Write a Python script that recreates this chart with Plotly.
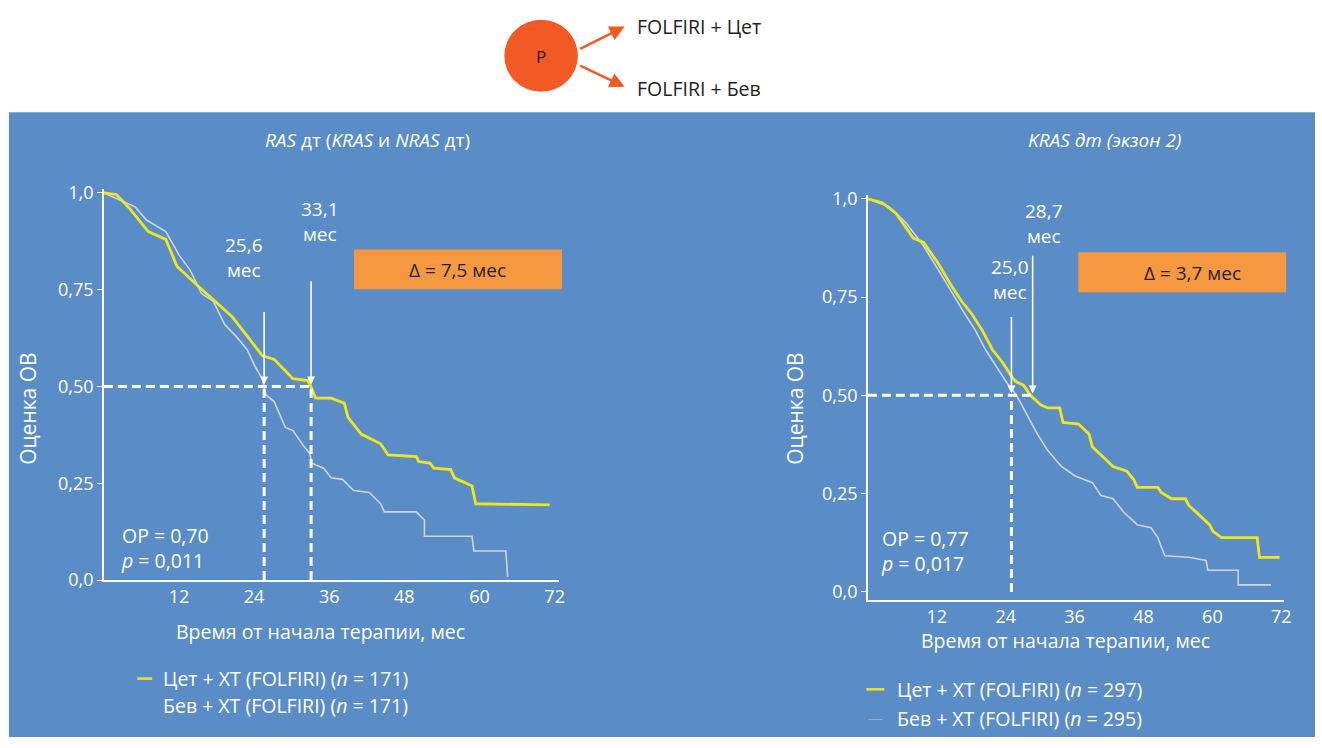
import plotly.graph_objects as go

W, H = 1322, 748

# ---- Kaplan-Meier curves (months, OS estimate) ----
# Left panel: RAS wild type
ras_cet_t = [0, 2.0, 4.1, 7.1, 9.9, 11.7, 15.0, 18.4, 20.5, 22.9, 25.3, 27.2, 30.2, 32.6, 33.2, 33.8,
             36.3, 38.4, 39.0, 41.1, 44.2, 45.4, 49.9, 50.3, 52.1, 52.7, 55.4, 56.0, 58.8, 59.4, 71.2]
ras_cet_s = [1.0, 0.996, 0.96, 0.90, 0.88, 0.81, 0.76, 0.71, 0.68, 0.63, 0.58, 0.57, 0.52, 0.515, 0.495, 0.47,
             0.47, 0.457, 0.42, 0.377, 0.352, 0.323, 0.319, 0.306, 0.302, 0.289, 0.285, 0.264, 0.243, 0.197, 0.194]

ras_bev_t = [0, 2.9, 5.0, 6.8, 8.9, 9.9, 12.0, 13.8, 15.6, 17.5, 19.3, 21.1, 22.9, 24.1, 25.3, 25.9, 27.2,
             29.0, 30.2, 32.0, 32.9, 33.2, 35.1, 36.3, 38.1, 39.9, 42.4, 44.2, 44.8, 49.9, 51.2, 51.2,
             58.8, 59.1, 64.2, 64.5]
ras_bev_s = [1.0, 0.98, 0.964, 0.93, 0.91, 0.90, 0.84, 0.80, 0.74, 0.72, 0.66, 0.63, 0.595, 0.553, 0.52, 0.478, 0.461,
             0.394, 0.386, 0.344, 0.327, 0.302, 0.289, 0.264, 0.26, 0.231, 0.226, 0.197, 0.176, 0.176, 0.155, 0.113,
             0.113, 0.075, 0.075, 0.008]

# Right panel: KRAS wild type (exon 2)
kras_cet_t = [0, 2.5, 4.9, 7.9, 9.7, 12.1, 14.5, 16.3, 18.1, 19.9, 21.7, 23.5, 25.3, 25.9, 27.1, 28.3, 30.1,
              31.3, 33.4, 34.0, 36.7, 38.5, 39.1, 40.9, 42.7, 45.1, 46.3, 46.9, 50.5, 51.1, 52.9, 55.3, 55.9,
              57.7, 59.5, 60.1, 61.6, 67.8, 68.2, 71.7]
kras_cet_s = [1.0, 0.99, 0.963, 0.90, 0.889, 0.839, 0.78, 0.74, 0.707, 0.666, 0.616, 0.583, 0.542, 0.534, 0.526, 0.50, 0.476,
              0.468, 0.468, 0.431, 0.427, 0.402, 0.369, 0.344, 0.319, 0.307, 0.286, 0.266, 0.266, 0.253, 0.237, 0.237, 0.22,
              0.196, 0.171, 0.154, 0.138, 0.138, 0.088, 0.088]

kras_bev_t = [0, 3.7, 6.7, 9.7, 12.1, 13.9, 15.1, 16.9, 18.7, 20.5, 22.3, 24.1, 25.9, 27.1, 29.5, 31.3, 33.7,
              36.1, 39.1, 40.6, 42.7, 44.5, 46.9, 49.3, 50.5, 51.7, 55.9, 58.9, 59.2, 64.5, 64.5, 70.2]
kras_bev_s = [1.0, 0.98, 0.938, 0.88, 0.823, 0.78, 0.748, 0.707, 0.666, 0.616, 0.575, 0.534, 0.50, 0.468, 0.402, 0.36, 0.319,
              0.295, 0.278, 0.245, 0.237, 0.204, 0.171, 0.163, 0.138, 0.092, 0.088, 0.08, 0.055, 0.055, 0.018, 0.018]

# Medians and summary statistics
ras_medians = [25.6, 33.1]
kras_medians = [25.0, 28.7]
ras_delta = "Δ = 7,5 мес"
kras_delta = "Δ = 3,7 мес"
ras_stats = ["ОР = 0,70", "<i>p</i> = 0,011"]
kras_stats = ["ОР = 0,77", "<i>p</i> = 0,017"]

x_ticks = [12, 24, 36, 48, 60, 72]
y_ticks = [0, 0.25, 0.5, 0.75, 1.0]
y_ticktext = ["0,0", "0,25", "0,50", "0,75", "1,0"]

legend_ras = ["Цет + ХТ (FOLFIRI) (<i>n</i> = 171)", "Бев + ХТ (FOLFIRI) (<i>n</i> = 171)"]
legend_kras = ["Цет + ХТ (FOLFIRI) (<i>n</i> = 297)", "Бев + ХТ (FOLFIRI) (<i>n</i> = 295)"]

# ---- styling ----
FONT = "Open Sans"
PANEL = "#5a8cc8"
YELLOW = "#efe71a"
GREY = "#cdd5e6"
ORANGE_BOX = "#f5983f"
ORANGE = "#f15a24"
DARK = "#231f20"


def px(x):
    return x / W


def py(y):
    return 1 - y / H


fig = go.Figure()

fig.add_trace(go.Scatter(x=ras_bev_t, y=ras_bev_s, mode="lines",
                         line=dict(color=GREY, width=1.6), xaxis="x", yaxis="y", showlegend=False))
fig.add_trace(go.Scatter(x=ras_cet_t, y=ras_cet_s, mode="lines",
                         line=dict(color=YELLOW, width=2.8), xaxis="x", yaxis="y", showlegend=False))
fig.add_trace(go.Scatter(x=kras_bev_t, y=kras_bev_s, mode="lines",
                         line=dict(color=GREY, width=1.6), xaxis="x2", yaxis="y2", showlegend=False))
fig.add_trace(go.Scatter(x=kras_cet_t, y=kras_cet_s, mode="lines",
                         line=dict(color=YELLOW, width=2.8), xaxis="x2", yaxis="y2", showlegend=False))

axis_common = dict(showgrid=False, zeroline=False, showline=True, linecolor="white", linewidth=1.5,
                   tickfont=dict(family=FONT, size=18, color="white"))

fig.update_layout(
    width=W, height=H,
    margin=dict(l=0, r=0, t=0, b=0),
    paper_bgcolor="white",
    plot_bgcolor="rgba(0,0,0,0)",
    showlegend=False,
    font=dict(family=FONT, color="white", size=18),
    xaxis=dict(domain=[px(104.4), px(562)], range=[0, 72.7], tickvals=x_ticks, ticks="", anchor="y",
               **axis_common),
    yaxis=dict(domain=[py(586.7), py(185)], range=[0, 1.01], tickvals=y_ticks, ticktext=y_ticktext,
               ticks="outside", ticklen=5, tickcolor="white", anchor="x", **axis_common),
    xaxis2=dict(domain=[px(872.5), px(1291)], range=[0, 72.5], tickvals=x_ticks, ticks="", anchor="y2",
                **axis_common),
    yaxis2=dict(domain=[py(607), py(191)], range=[-0.02, 1.01], tickvals=y_ticks, ticktext=y_ticktext,
                ticks="outside", ticklen=5, tickcolor="white", anchor="x2", **axis_common),
)

shapes = []
# blue panel behind both charts
shapes.append(dict(type="rect", xref="paper", yref="paper", x0=px(9), x1=1, y0=0, y1=py(106),
                   fillcolor=PANEL, line=dict(width=0), layer="below"))
# randomisation circle
shapes.append(dict(type="circle", xref="paper", yref="paper", x0=px(507), x1=px(581), y0=py(85), y1=py(11),
                   fillcolor=ORANGE, line=dict(width=0)))
# delta boxes
shapes.append(dict(type="rect", xref="paper", yref="paper", x0=px(356), x1=px(565), y0=py(288), y1=py(247),
                   fillcolor=ORANGE_BOX, line=dict(width=0)))
shapes.append(dict(type="rect", xref="paper", yref="paper", x0=px(1084), x1=px(1293), y0=py(291), y1=py(250),
                   fillcolor=ORANGE_BOX, line=dict(width=0)))

dash = dict(color="white", width=3, dash="9px,5px")
# median guides, left panel
shapes.append(dict(type="line", xref="x", yref="y", x0=0, x1=ras_medians[1], y0=0.5, y1=0.5, line=dash))
for m in ras_medians:
    shapes.append(dict(type="line", xref="x", yref="y", x0=m, x1=m, y0=0, y1=0.5, line=dash))
# median guides, right panel
shapes.append(dict(type="line", xref="x2", yref="y2", x0=0, x1=kras_medians[1], y0=0.5, y1=0.5, line=dash))
shapes.append(dict(type="line", xref="x2", yref="y2", x0=kras_medians[0], x1=kras_medians[0], y0=0.0, y1=0.5,
                   line=dash))

# legend swatches
shapes.append(dict(type="line", xref="paper", yref="paper", x0=px(138), x1=px(153), y0=py(688), y1=py(688),
                   line=dict(color=YELLOW, width=2.5)))
shapes.append(dict(type="line", xref="paper", yref="paper", x0=px(871), x1=px(889), y0=py(699), y1=py(699),
                   line=dict(color=YELLOW, width=2.5)))
shapes.append(dict(type="line", xref="paper", yref="paper", x0=px(873), x1=px(887), y0=py(730), y1=py(730),
                   line=dict(color="rgba(205,213,230,0.5)", width=1)))

fig.update_layout(shapes=shapes)

ann = []


def text(x, y, s, size=18, color="white", xanchor="center", **kw):
    ann.append(dict(x=px(x), y=py(y), xref="paper", yref="paper", text=s, showarrow=False,
                    xanchor=xanchor, yanchor="middle", font=dict(family=FONT, size=size, color=color), **kw))


# randomisation scheme
text(544, 49, "Р", size=17, color=DARK)
text(638, 18, "FOLFIRI + Цет", size=19.5, color=DARK, xanchor="left")
text(638, 82, "FOLFIRI + Бев", size=19.5, color=DARK, xanchor="left")
for tip, tail in [((628, 18), (582, 41)), ((628, 80), (582, 58))]:
    ann.append(dict(x=px(tip[0]), y=py(tip[1]), xref="paper", yref="paper", ax=tail[0] - tip[0],
                    ay=tail[1] - tip[1], showarrow=True, arrowhead=2, arrowsize=1.2, arrowwidth=2.5,
                    arrowcolor=ORANGE, text=""))

# panel titles
text(369, 135, "<i>RAS</i> дт (<i>KRAS</i> и <i>NRAS</i> дт)", size=19)
text(1110, 135, "<i>KRAS дт (экзон 2)</i>", size=19)

# axis titles
text(28, 411, "Оценка ОВ", size=21, textangle=-90)
text(799, 411, "Оценка ОВ", size=21, textangle=-90)
text(322, 640, "Время от начала терапии, мес", size=19.5)
text(1071, 649, "Время от начала терапии, мес", size=19.5)

# median labels
text(245, 255, "25,6<br>мес", size=19)
text(322, 218, "33,1<br>мес", size=19)
text(1015, 278, "25,0<br>мес", size=19)
text(1050, 220, "28,7<br>мес", size=19)

# delta labels
text(460, 268, ras_delta, size=19, color=DARK)
text(1199, 271, kras_delta, size=19, color=DARK)

# HR / p values
text(120, 554, "<br>".join(ras_stats), size=19.5, xanchor="left", align="left")
text(884, 557, "<br>".join(kras_stats), size=19.5, xanchor="left", align="left")

# legend text
text(162, 688, legend_ras[0], size=19.5, xanchor="left")
text(162, 716, legend_ras[1], size=19.5, xanchor="left")
text(900, 699, legend_kras[0], size=19.5, xanchor="left")
text(900, 729, legend_kras[1], size=19.5, xanchor="left")

# arrows pointing to medians
for xr, yr, m, top in [("x", "y", ras_medians[0], 0.696), ("x", "y", ras_medians[1], 0.776),
                       ("x2", "y2", kras_medians[0], 0.703), ("x2", "y2", kras_medians[1], 0.859)]:
    ann.append(dict(x=m, y=0.505, xref=xr, yref=yr, axref=xr, ayref=yr, ax=m, ay=top, showarrow=True,
                    arrowhead=2, arrowsize=1, arrowwidth=1.6, arrowcolor="white", text="", standoff=0))

fig.update_layout(annotations=ann)

fig.write_html("out.html")
